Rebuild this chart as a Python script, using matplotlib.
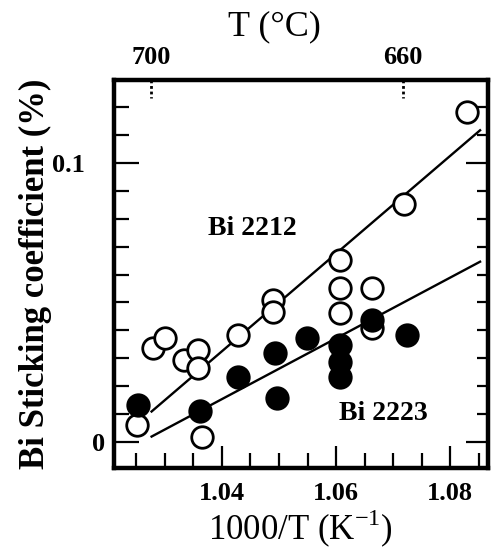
import numpy as np
import matplotlib
matplotlib.use('Agg')
import matplotlib.pyplot as plt
from matplotlib.transforms import ScaledTranslation

plt.rcParams['font.family'] = ['Liberation Serif', 'DejaVu Serif']
plt.rcParams['mathtext.fontset'] = 'custom'
plt.rcParams['mathtext.rm'] = 'Liberation Serif'

# Bi 2212 (open circles)
x_2212 = [1.0251, 1.0280, 1.0301, 1.0333, 1.0359, 1.0359, 1.0365, 1.0429,
          1.0490, 1.0490, 1.0607, 1.0607, 1.0607, 1.0663, 1.0663, 1.0718, 1.0829]
y_2212 = [0.0060, 0.0335, 0.0371, 0.0293, 0.0329, 0.0263, 0.0018, 0.0383,
          0.0508, 0.0466, 0.0652, 0.0550, 0.0461, 0.0550, 0.0407, 0.0855, 0.1184]

# Bi 2223 (filled circles)
x_2223 = [1.0254, 1.0362, 1.0429, 1.0493, 1.0496, 1.0549, 1.0607, 1.0607,
          1.0607, 1.0663, 1.0724]
y_2223 = [0.0132, 0.0108, 0.0233, 0.0317, 0.0156, 0.0371, 0.0347, 0.0287,
          0.0233, 0.0437, 0.0383]

# fitted lines (end points)
fit_x = [1.0277, 1.0852]
fit_2212 = [0.0108, 0.1118]
fit_2223 = [0.0018, 0.0646]

# top axis temperatures (deg C)
top_temps = [700, 660]

x_ticks = np.round(np.arange(1.025, 1.0866, 0.005), 3)
x_labels = {1.04: '1.04', 1.06: '1.06', 1.08: '1.08'}
y_ticks = np.round(np.arange(0, 0.125, 0.01), 2)
y_labels = {0.0: '0', 0.1: '0.1'}

fig = plt.figure(figsize=(4.93, 5.49), dpi=100)
ax = fig.add_axes([0.231, 0.1475, 0.759, 0.7065])

ax.plot(fit_x, fit_2212, color='black', lw=1.7, zorder=2)
ax.plot(fit_x, fit_2223, color='black', lw=1.7, zorder=2)
ax.plot(x_2212, y_2212, 'o', ms=15.5, mfc='white', mec='black', mew=2.0,
        zorder=3, ls='none')
ax.plot(x_2223, y_2223, 'o', ms=15.5, mfc='black', mec='black', mew=2.0,
        zorder=4, ls='none')

ax.text(1.0453, 0.0766, 'Bi 2212', fontsize=20, fontweight='bold',
        ha='center', va='center')
ax.text(1.0683, 0.0102, 'Bi 2223', fontsize=20, fontweight='bold',
        ha='center', va='center')

ax.set_xlim(1.0211, 1.0866)
ax.set_ylim(-0.0095, 0.1298)

ax.set_xticks(x_ticks)
ax.set_xticklabels([x_labels.get(v, '') for v in x_ticks])
ax.set_yticks(y_ticks)
ax.set_yticklabels([y_labels.get(v, '') for v in y_ticks])

ax.tick_params(axis='x', direction='in', length=11, width=1.6, top=True,
               labelsize=19, pad=10)
ax.tick_params(axis='y', direction='in', length=11, width=1.6, right=True,
               labelsize=19, pad=21)
for lab in ax.get_xticklabels() + ax.get_yticklabels():
    lab.set_fontweight('bold')

for v, t in zip(x_ticks, ax.xaxis.get_major_ticks()):
    if v in x_labels:
        t.tick1line.set_markersize(16)
for v, t in zip(y_ticks, ax.yaxis.get_major_ticks()):
    t.tick2line.set_markersize(8)
    if v in y_labels:
        t.tick1line.set_markersize(18)
        t.tick2line.set_markersize(16)
for v, lab in zip(y_ticks, ax.get_yticklabels()):
    if v == 0.0:
        lab.set_transform(lab.get_transform() +
                          ScaledTranslation(0.2, 0, fig.dpi_scale_trans))

for s in ax.spines.values():
    s.set_linewidth(3.2)

ax.set_xlabel('1000/T (K$^{-1}$)', fontsize=25, labelpad=2)
ax.set_ylabel('Bi Sticking coefficient (%)', fontsize=25, fontweight='bold',
              labelpad=0)

# top temperature axis
ax2 = ax.twiny()
ax2.set_xlim(ax.get_xlim())
top_pos = [1000.0 / (t + 273.15) for t in top_temps]
ax2.set_xticks(top_pos)
ax2.set_xticklabels([str(t) for t in top_temps], fontweight='bold')
ax2.tick_params(axis='x', direction='in', length=0, labelsize=19, pad=8)
ax2.set_xlabel('T (°C)', fontsize=26)
ax2.xaxis.set_label_coords(0.43, 1.115)
for p in top_pos:
    ax.plot([p, p], [1.0, 0.955], transform=ax.get_xaxis_transform(),
            color='black', lw=2, ls=(0, (1, 1)), clip_on=False, zorder=5)

plt.savefig('out.png', dpi=100, facecolor='white')
